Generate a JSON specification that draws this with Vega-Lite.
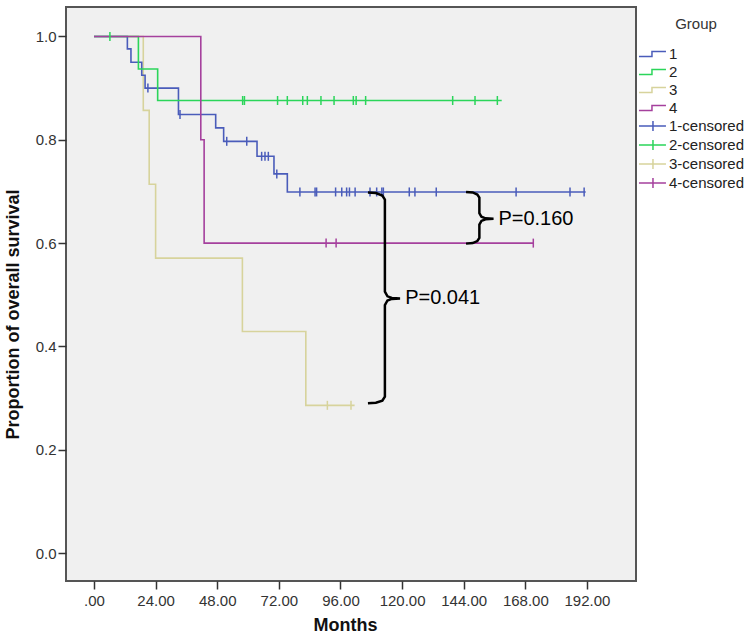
{
  "$schema": "https://vega.github.io/schema/vega-lite/v6.json",
  "width": 570,
  "height": 574,
  "autosize": {"type": "none"},
  "padding": {"left": 66, "top": 7, "right": 114, "bottom": 63},
  "background": "white",
  "config": {
    "view": {"fill": "#f0f0f0", "stroke": "#555555", "strokeWidth": 2},
    "font": "Liberation Sans",
    "axis": {"grid": false, "domain": false, "tickColor": "#333333", "tickSize": 8, "tickWidth": 1.5, "labelFontSize": 15, "labelColor": "#333333", "labelFont": "Liberation Sans", "titleFont": "Liberation Sans", "titleFontSize": 18, "titleFontWeight": "bold", "titleColor": "#111111"},
    "legend": {"titleFontSize": 15, "titleFontWeight": "normal", "titleColor": "#333333", "titleFont": "Liberation Sans", "titleAnchor": "middle", "titlePadding": 12, "labelFontSize": 15, "labelColor": "#222222", "labelFont": "Liberation Sans", "labelOffset": 2, "symbolSize": 335, "symbolStrokeWidth": 1.5, "symbolOpacity": 1, "symbolFillColor": "transparent", "rowPadding": 0, "padding": 0}
  },
  "datasets": {
    "curves": [
      {"series": "3", "t": 0, "s": 1}, {"series": "3", "t": 19.2, "s": 0.857}, {"series": "3", "t": 21.5, "s": 0.714}, {"series": "3", "t": 24, "s": 0.571}, {"series": "3", "t": 57.8, "s": 0.429}, {"series": "3", "t": 82.5, "s": 0.286}, {"series": "3", "t": 101.5, "s": 0.286},
      {"series": "1", "t": 0, "s": 1}, {"series": "1", "t": 13, "s": 0.976}, {"series": "1", "t": 14.4, "s": 0.95}, {"series": "1", "t": 18.6, "s": 0.925}, {"series": "1", "t": 19.9, "s": 0.9}, {"series": "1", "t": 32.9, "s": 0.849}, {"series": "1", "t": 47.4, "s": 0.823}, {"series": "1", "t": 50.5, "s": 0.797}, {"series": "1", "t": 63.5, "s": 0.768}, {"series": "1", "t": 70.1, "s": 0.734}, {"series": "1", "t": 75.3, "s": 0.699}, {"series": "1", "t": 191.5, "s": 0.699},
      {"series": "2", "t": 0, "s": 1}, {"series": "2", "t": 17.3, "s": 0.937}, {"series": "2", "t": 24.8, "s": 0.876}, {"series": "2", "t": 158.8, "s": 0.876},
      {"series": "4", "t": 0, "s": 1}, {"series": "4", "t": 41.6, "s": 0.8}, {"series": "4", "t": 42.9, "s": 0.6}, {"series": "4", "t": 171.1, "s": 0.6}
    ],
    "censored": [
      {"series": "1-censored", "t": 21, "s": 0.9}, {"series": "1-censored", "t": 33.5, "s": 0.849}, {"series": "1-censored", "t": 51.7, "s": 0.797}, {"series": "1-censored", "t": 59.5, "s": 0.797}, {"series": "1-censored", "t": 65.3, "s": 0.768}, {"series": "1-censored", "t": 66.6, "s": 0.768}, {"series": "1-censored", "t": 67.9, "s": 0.768}, {"series": "1-censored", "t": 71.2, "s": 0.734},
      {"series": "1-censored", "t": 80.2, "s": 0.699}, {"series": "1-censored", "t": 86.1, "s": 0.699}, {"series": "1-censored", "t": 86.7, "s": 0.699}, {"series": "1-censored", "t": 94.1, "s": 0.699}, {"series": "1-censored", "t": 96.5, "s": 0.699}, {"series": "1-censored", "t": 98.4, "s": 0.699}, {"series": "1-censored", "t": 99.5, "s": 0.699}, {"series": "1-censored", "t": 101.7, "s": 0.699}, {"series": "1-censored", "t": 107.5, "s": 0.699}, {"series": "1-censored", "t": 110.1, "s": 0.699}, {"series": "1-censored", "t": 112.1, "s": 0.699}, {"series": "1-censored", "t": 112.7, "s": 0.699}, {"series": "1-censored", "t": 122.8, "s": 0.699}, {"series": "1-censored", "t": 125, "s": 0.699}, {"series": "1-censored", "t": 133.3, "s": 0.699}, {"series": "1-censored", "t": 164.4, "s": 0.699}, {"series": "1-censored", "t": 185.4, "s": 0.699}, {"series": "1-censored", "t": 190.9, "s": 0.699},
      {"series": "2-censored", "t": 6.2, "s": 1}, {"series": "2-censored", "t": 57.9, "s": 0.876}, {"series": "2-censored", "t": 58.6, "s": 0.876}, {"series": "2-censored", "t": 71.5, "s": 0.876}, {"series": "2-censored", "t": 75.3, "s": 0.876}, {"series": "2-censored", "t": 81.3, "s": 0.876}, {"series": "2-censored", "t": 83.1, "s": 0.876}, {"series": "2-censored", "t": 88.4, "s": 0.876}, {"series": "2-censored", "t": 93.5, "s": 0.876}, {"series": "2-censored", "t": 101, "s": 0.876}, {"series": "2-censored", "t": 102.1, "s": 0.876}, {"series": "2-censored", "t": 105.8, "s": 0.876}, {"series": "2-censored", "t": 139.7, "s": 0.876}, {"series": "2-censored", "t": 148.4, "s": 0.876}, {"series": "2-censored", "t": 157.1, "s": 0.876},
      {"series": "3-censored", "t": 90.9, "s": 0.286}, {"series": "3-censored", "t": 100.1, "s": 0.286},
      {"series": "4-censored", "t": 90.4, "s": 0.6}, {"series": "4-censored", "t": 94.3, "s": 0.6}, {"series": "4-censored", "t": 171.1, "s": 0.6}
    ],
    "braces": [
      {"id": "a", "k": 1, "t": 144.9, "s": 0.699}, {"id": "a", "k": 2, "t": 147.5, "s": 0.698}, {"id": "a", "k": 3, "t": 149.3, "s": 0.694}, {"id": "a", "k": 4, "t": 150.1, "s": 0.688}, {"id": "a", "k": 5, "t": 150.1, "s": 0.658}, {"id": "a", "k": 6, "t": 150.9, "s": 0.651}, {"id": "a", "k": 7, "t": 152.5, "s": 0.648}, {"id": "a", "k": 8, "t": 155.6, "s": 0.647}, {"id": "a", "k": 9, "t": 152.5, "s": 0.646}, {"id": "a", "k": 10, "t": 150.9, "s": 0.643}, {"id": "a", "k": 11, "t": 150.1, "s": 0.636}, {"id": "a", "k": 12, "t": 150.1, "s": 0.61}, {"id": "a", "k": 13, "t": 149.3, "s": 0.604}, {"id": "a", "k": 14, "t": 147.5, "s": 0.6}, {"id": "a", "k": 15, "t": 144.9, "s": 0.599},
      {"id": "b", "k": 1, "t": 106.7, "s": 0.698}, {"id": "b", "k": 2, "t": 109.8, "s": 0.697}, {"id": "b", "k": 3, "t": 112.3, "s": 0.692}, {"id": "b", "k": 4, "t": 113.3, "s": 0.684}, {"id": "b", "k": 5, "t": 113.3, "s": 0.506}, {"id": "b", "k": 6, "t": 114.3, "s": 0.497}, {"id": "b", "k": 7, "t": 116, "s": 0.494}, {"id": "b", "k": 8, "t": 119.2, "s": 0.493}, {"id": "b", "k": 9, "t": 116, "s": 0.492}, {"id": "b", "k": 10, "t": 114.3, "s": 0.489}, {"id": "b", "k": 11, "t": 113.3, "s": 0.48}, {"id": "b", "k": 12, "t": 113.3, "s": 0.303}, {"id": "b", "k": 13, "t": 112.3, "s": 0.295}, {"id": "b", "k": 14, "t": 109.8, "s": 0.291}, {"id": "b", "k": 15, "t": 106.7, "s": 0.29}
    ],
    "labels": [
      {"label": "P=0.160", "t": 157.5, "s": 0.647},
      {"label": "P=0.041", "t": 121.2, "s": 0.493}
    ],
    "legendrows": [
      {"series": "1"}, {"series": "2"}, {"series": "3"}, {"series": "4"},
      {"series": "1-censored"}, {"series": "2-censored"}, {"series": "3-censored"}, {"series": "4-censored"}
    ]
  },
  "layer": [
    {
      "data": {"name": "legendrows"},
      "mark": {"type": "point", "filled": false, "opacity": 0},
      "encoding": {
        "color": {"field": "series", "type": "nominal",
                  "scale": {"domain": ["1", "2", "3", "4", "1-censored", "2-censored", "3-censored", "4-censored"],
                            "range": ["#4a5cba", "#2bd55a", "#d7d39c", "#a5409d", "#4a5cba", "#2bd55a", "#d7d39c", "#a5409d"]},
                  "legend": {"title": "Group", "orient": "none", "legendX": 581, "legendY": 10}},
        "shape": {"field": "series", "type": "nominal",
                  "scale": {"domain": ["1", "2", "3", "4", "1-censored", "2-censored", "3-censored", "4-censored"],
                            "range": ["M-1.97,0.27H-0.55V-0.27H0.98", "M-1.97,0.27H-0.55V-0.27H0.98", "M-1.97,0.27H-0.55V-0.27H0.98", "M-1.97,0.27H-0.55V-0.27H0.98", "M-1.97,0H0.98M-0.44,-0.55V0.55", "M-1.97,0H0.98M-0.44,-0.55V0.55", "M-1.97,0H0.98M-0.44,-0.55V0.55", "M-1.97,0H0.98M-0.44,-0.55V0.55"]},
                  "legend": {"title": "Group", "orient": "none", "legendX": 581, "legendY": 10}}
      }
    },
    {
      "data": {"name": "curves"},
      "mark": {"type": "line", "interpolate": "step-after", "strokeWidth": 1.6},
      "encoding": {
        "x": {"field": "t", "type": "quantitative", "scale": {"domain": [-10.9, 211.1], "nice": false, "zero": false},
              "axis": {"title": "Months", "values": [0, 24, 48, 72, 96, 120, 144, 168, 192], "labelExpr": "datum.value == 0 ? '.00' : format(datum.value, '.2f')", "labelPadding": 4, "titlePadding": 8, "titleX": 279}},
        "y": {"field": "s", "type": "quantitative", "scale": {"domain": [-0.054, 1.057], "nice": false, "zero": false},
              "axis": {"title": "Proportion of overall survival", "values": [0, 0.2, 0.4, 0.6, 0.8, 1.0], "format": ".1f", "labelPadding": 2, "titlePadding": 13, "titleY": 307}},
        "color": {"field": "series", "type": "nominal"}
      }
    },
    {
      "data": {"name": "censored"},
      "mark": {"type": "point", "shape": "M0,-1V1", "filled": false, "size": 81, "strokeWidth": 1.5, "opacity": 1},
      "encoding": {
        "x": {"field": "t", "type": "quantitative"},
        "y": {"field": "s", "type": "quantitative"},
        "color": {"field": "series", "type": "nominal"}
      }
    },
    {
      "data": {"name": "braces"},
      "mark": {"type": "line", "color": "black", "strokeWidth": 2.5},
      "encoding": {
        "x": {"field": "t", "type": "quantitative"},
        "y": {"field": "s", "type": "quantitative"},
        "detail": {"field": "id"},
        "order": {"field": "k", "type": "quantitative"}
      }
    },
    {
      "data": {"name": "labels"},
      "mark": {"type": "text", "align": "left", "baseline": "middle", "fontSize": 20, "font": "Liberation Sans", "color": "black"},
      "encoding": {
        "x": {"field": "t", "type": "quantitative"},
        "y": {"field": "s", "type": "quantitative"},
        "text": {"field": "label"}
      }
    }
  ]
}
